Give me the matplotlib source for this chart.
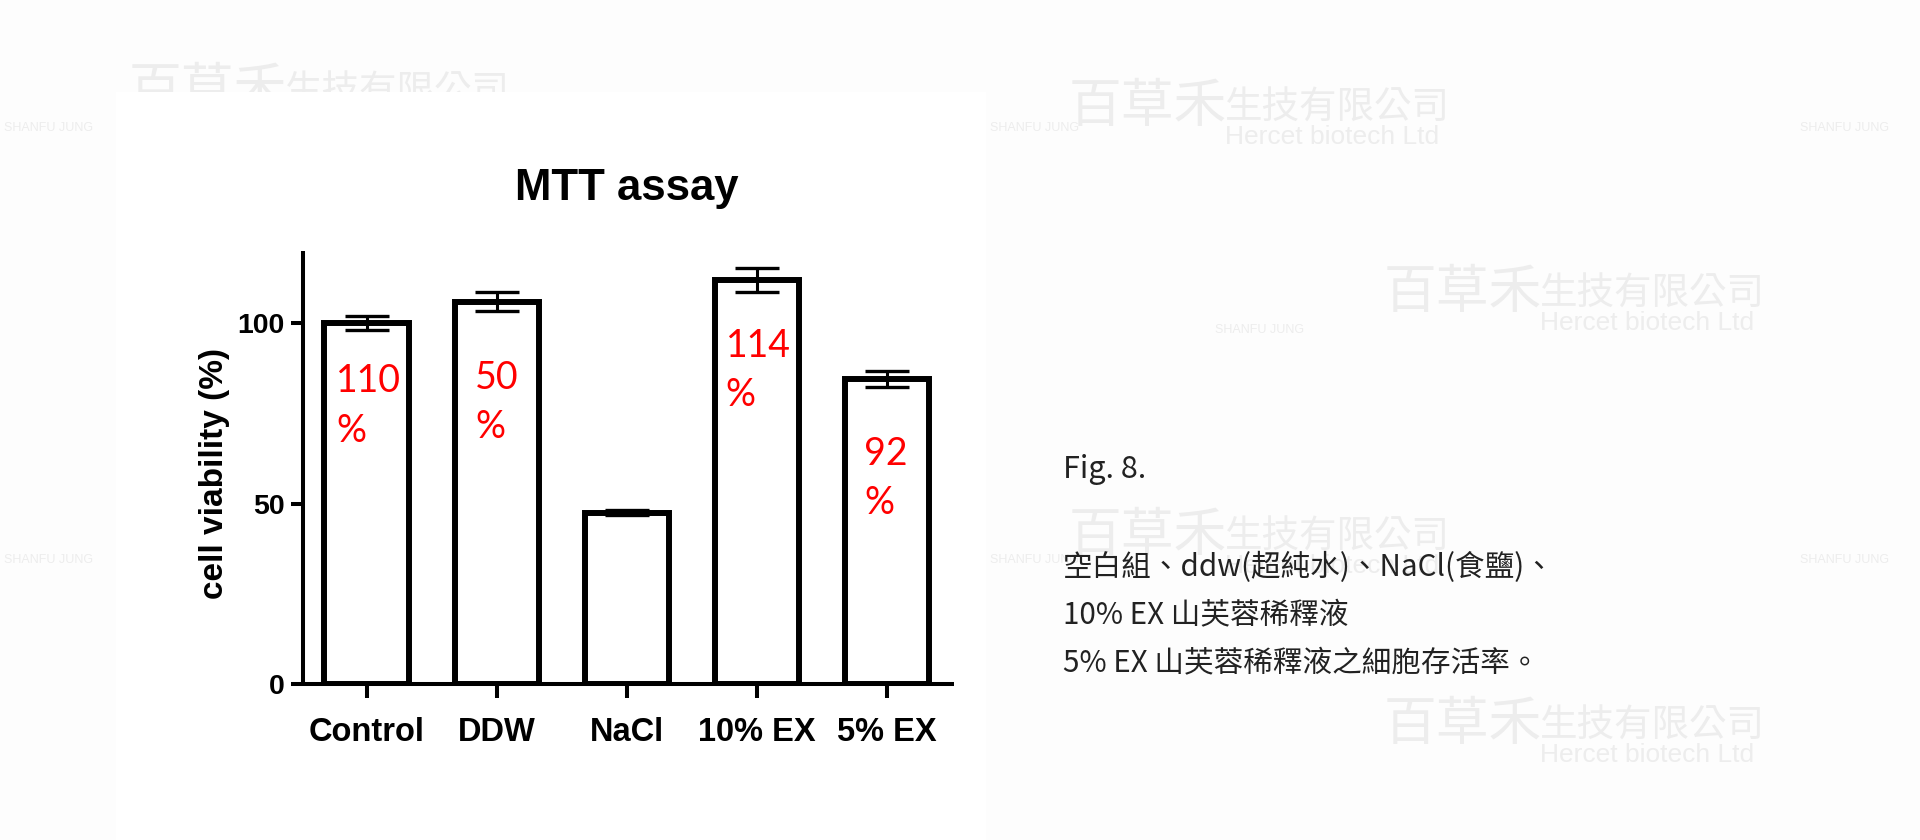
import matplotlib
matplotlib.use("Agg")
import matplotlib.pyplot as plt
from matplotlib.patches import Rectangle

# ---------------- data ----------------
categories = ["Control", "DDW", "NaCl", "10% EX", "5% EX"]
viability = [100.0, 106.0, 47.5, 112.0, 84.5]
sem = [1.9, 2.5, 0.8, 3.4, 2.2]
yticks = [0, 50, 100]
annot_numbers = ["110", "50", "", "114", "92"]

caption_title = "Fig. 8."
caption_lines = ["空白組、ddw(超純水)、NaCl(食鹽)、",
                 "10% EX 山芙蓉稀釋液",
                 "5% EX 山芙蓉稀釋液之細胞存活率。"]

wm_company = "生技有限公司"
wm_brand = "百草禾"
wm_english = "Hercet biotech Ltd"
wm_logo = "SHANFU JUNG"

# ---------------- layout helpers ----------------
W, H = 1920, 840
def fx(x):
    return x / W
def fy(y):
    return 1 - y / H

annot_baseline = [80.8, 81.7, None, 90.6, 60.8]
annot_dx = [-0.235, -0.165, 0, -0.24, -0.175]
pct_drop = 13.6

fig = plt.figure(figsize=(19.2, 8.4), dpi=100, facecolor="#fdfdfd")

# watermarks (very faint)
wm_col = "#ededed"
groups = [(1069, 0), (1384, 186), (1069, 429), (1384, 618), (129, -16)]
for gx, gy in groups:
    fig.text(fx(gx), fy(122 + gy), wm_brand, fontsize=38, color=wm_col,
             family=["Noto Sans CJK TC"], va="baseline", ha="left", zorder=-2)
    fig.text(fx(gx + 156), fy(119 + gy), wm_company, fontsize=27, color=wm_col,
             family=["Noto Sans CJK TC"], va="baseline", ha="left", zorder=-2)
    fig.text(fx(gx + 156), fy(144 + gy), wm_english, fontsize=19, color=wm_col,
             family=["Liberation Sans"], va="baseline", ha="left", zorder=-2)
for lx, ly in [(4, 128), (990, 128), (1215, 330), (4, 560), (990, 560),
               (1800, 128), (1800, 560)]:
    fig.text(fx(lx), fy(ly), wm_logo, fontsize=9, color=wm_col,
             family=["Liberation Sans Narrow", "Liberation Sans"], ha="left",
             va="center", zorder=-2)

# white panel behind the chart
fig.patches.append(Rectangle((fx(116), 0), fx(986) - fx(116), fy(92),
                             transform=fig.transFigure, facecolor="white",
                             edgecolor="none", zorder=-1))

# ---------------- chart ----------------
ax = fig.add_axes([fx(303), fy(684), fx(954) - fx(303), fy(251) - fy(684)])
ax.set_facecolor("none")
x = list(range(len(categories)))
ax.bar(x, viability, width=0.65, color="white", edgecolor="black",
       linewidth=4.3, zorder=2)
ax.errorbar(x, viability, yerr=sem, fmt="none", ecolor="black",
            elinewidth=2.2, capsize=16, capthick=2.4, zorder=3)

ax.set_xlim(-0.49, 4.515)
ax.set_ylim(0, 120)
ax.set_yticks(yticks)
ax.set_xticks(x)
ax.set_xticklabels(categories)
for s in ["top", "right"]:
    ax.spines[s].set_visible(False)
for s in ["left", "bottom"]:
    ax.spines[s].set_linewidth(2.9)
    ax.spines[s].set_capstyle("butt")

ax.tick_params(axis="x", length=10, width=2.9, pad=14, labelsize=23.5)
ax.tick_params(axis="y", length=8.6, width=2.9, pad=4.5, labelsize=20.5)
for lab in ax.get_xticklabels() + ax.get_yticklabels():
    lab.set_fontfamily("Liberation Sans")
    lab.set_fontweight("bold")

ax.set_ylabel("cell viability (%)", fontsize=24, fontweight="bold",
              family="Liberation Sans")
ax.yaxis.set_label_coords(-0.112, 0.486)

fig.text(fx(627), fy(200), "MTT assay", ha="center", va="baseline",
         fontsize=31.5, fontweight="bold", family="Liberation Sans")

# red annotations
for i, num in enumerate(annot_numbers):
    if not num:
        continue
    xx = x[i] + annot_dx[i]
    ax.text(xx, annot_baseline[i], num, color="#ff0000", fontsize=27,
            family="Lato", ha="left", va="baseline", zorder=4)
    ax.text(xx, annot_baseline[i] - pct_drop, "%", color="#ff0000", fontsize=27,
            family="Lato", ha="left", va="baseline", zorder=4)

# ---------------- caption ----------------
cap_col = "#222222"
fig.text(fx(1063), fy(478), caption_title, fontsize=22, color=cap_col,
         family=["Noto Sans CJK TC"], ha="left", va="baseline")
for k, line in enumerate(caption_lines):
    fig.text(fx(1063), fy(576.5 + 48 * k), line, fontsize=21.3, color=cap_col,
             family=["Noto Sans CJK TC"], ha="left", va="baseline")

fig.savefig("out.png", dpi=100, facecolor=fig.get_facecolor())
